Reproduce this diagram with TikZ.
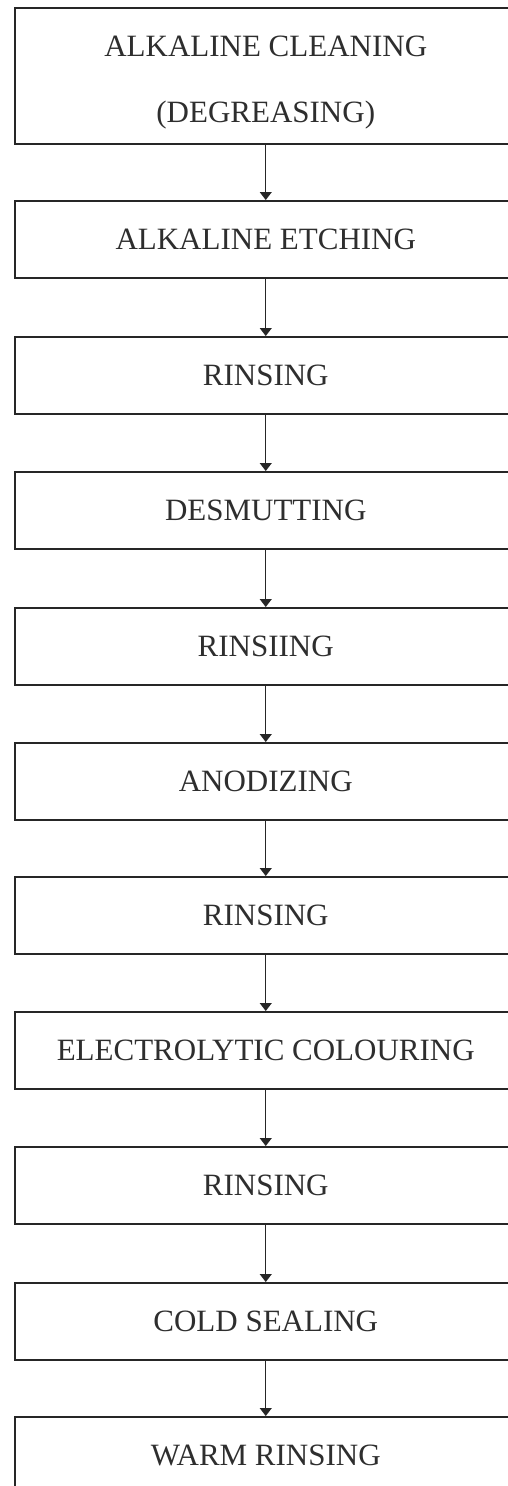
\documentclass[tikz,border=0pt]{standalone}
\usepackage{fontspec}
\setmainfont{Liberation Serif}
\usetikzlibrary{arrows.meta}
\begin{document}
\begin{tikzpicture}[x=1pt,y=-1pt,
  stepbox/.style={draw=black!85, line width=1.5pt, minimum width=502pt, minimum height=77pt,
    inner sep=0pt, font=\fontsize{31}{66}\selectfont, text=black!82, align=center, anchor=north west},
  flow/.style={draw=black!85, -{Triangle[length=8pt,width=12pt]}, line width=1.1pt}]
\useasboundingbox (0,0) rectangle (508,1486);
\clip (0,0) rectangle (508,1486);
\fill[white] (0,0) rectangle (508,1486);
\node[stepbox, minimum height=136pt, text height=101pt] (b1) at (14,7) {ALKALINE CLEANING\\(DEGREASING)};
\node[stepbox] (b2) at (14,200) {ALKALINE ETCHING};
\node[stepbox] (b3) at (14,336) {RINSING};
\node[stepbox] (b4) at (14,471) {DESMUTTING};
\node[stepbox] (b5) at (14,607) {RINSIING};
\node[stepbox] (b6) at (14,742) {ANODIZING};
\node[stepbox] (b7) at (14,876) {RINSING};
\node[stepbox] (b8) at (14,1011) {ELECTROLYTIC COLOURING};
\node[stepbox] (b9) at (14,1146) {RINSING};
\node[stepbox] (b10) at (14,1282) {COLD SEALING};
\node[stepbox] (b11) at (14,1416) {WARM RINSING};
\foreach \a/\b in {b1/b2,b2/b3,b3/b4,b4/b5,b5/b6,b6/b7,b7/b8,b8/b9,b9/b10,b10/b11}
  \draw[flow] (\a.south) -- (\b.north);
\end{tikzpicture}
\end{document}
